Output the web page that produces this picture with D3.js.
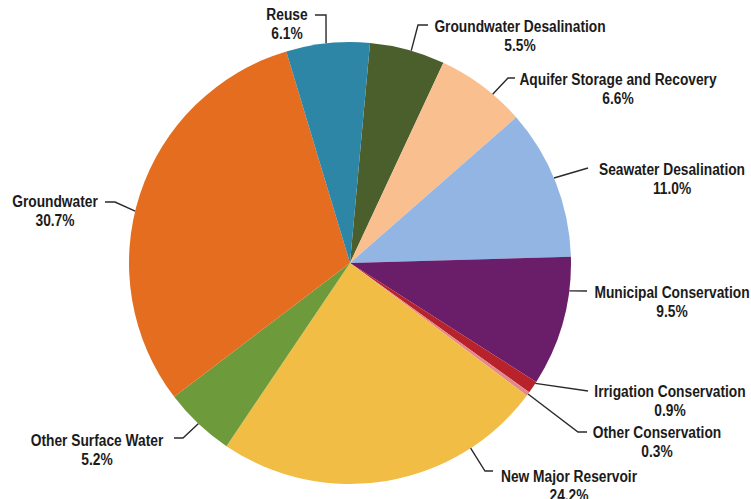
<!DOCTYPE html>
<html><head><meta charset="utf-8">
<script src="https://cdn.jsdelivr.net/npm/d3@7"></script>
<style>body{margin:0;background:#fff}svg{display:block}</style>
</head><body>
<svg id="c" width="751" height="499"></svg>
<script>
const categories = ["Groundwater Desalination","Aquifer Storage and Recovery","Seawater Desalination","Municipal Conservation","Irrigation Conservation","Other Conservation","New Major Reservoir","Other Surface Water","Groundwater","Reuse"];
const values = [5.5,6.6,11.0,9.5,0.9,0.3,24.2,5.2,30.7,6.1];
const valueLabels = ["5.5%","6.6%","11.0%","9.5%","0.9%","0.3%","24.2%","5.2%","30.7%","6.1%"];
const colors = ["#4b5f2c","#f9bf8e","#92b5e3","#6a1e69","#b8222a","#e3898a","#f2bd45","#6d9a3a","#e46d1f","#2e86a6"];

// label layout (positions only)
const layout = [
  {t:0.55, pts:[[418,25],[428,25]], x:520, y:32},
  {t:0.64, pts:[[508,78],[515,78]], x:618, y:85},
  {t:0.47, pts:[[588,168]], x:672, y:175},
  {t:0.26, pts:[[587,291]], x:672, y:298},
  {t:0.14, pts:[[588,391]], x:670, y:397},
  {t:0.5,  pts:[[578,432],[587,432]], x:657, y:438},
  {t:0.23, pts:[[485,471],[493,471]], x:569, y:482},
  {t:0.5,  pts:[[183,438],[174,438]], x:97, y:446},
  {t:0.46, pts:[[115,202],[105,202]], x:55, y:207},
  {t:0.48, pts:[[326,15],[315,15]], x:287, y:20}
];

const cx = 350, cy = 263, r = 221;
const start = 5.2 * Math.PI / 180;
const svg = d3.select("#c");
const g = svg.append("g").attr("transform", `translate(${cx},${cy})`);
const pie = d3.pie().sort(null).value(d => d).startAngle(start).endAngle(start + 2*Math.PI);
const arcs = pie(values);
const arc = d3.arc().innerRadius(0).outerRadius(r);

g.selectAll("path.slice").data(arcs).join("path")
  .attr("class","slice").attr("d", arc).attr("fill", (d,i) => colors[i]);

const font = "'Liberation Sans',Arial,sans-serif";
arcs.forEach((a,i) => {
  const L = layout[i];
  const ang = a.startAngle + L.t*(a.endAngle - a.startAngle);
  const p0 = [cx + r*Math.sin(ang), cy - r*Math.cos(ang)];
  const line = d3.line();
  svg.append("path").attr("d", line([p0, ...L.pts]))
    .attr("fill","none").attr("stroke","#2a2a2a").attr("stroke-width",1.4);
  const t = svg.append("text").attr("text-anchor","middle")
    .attr("transform", `translate(${L.x},${L.y}) scale(0.81,1)`)
    .attr("font-family", font).attr("font-weight","bold").attr("font-size",17)
    .attr("fill","#1b1b1b");
  t.append("tspan").attr("x", 0).attr("y", 0).text(categories[i]);
  t.append("tspan").attr("x", 0).attr("y", 19).text(valueLabels[i]);
});
</script>
</body></html>
